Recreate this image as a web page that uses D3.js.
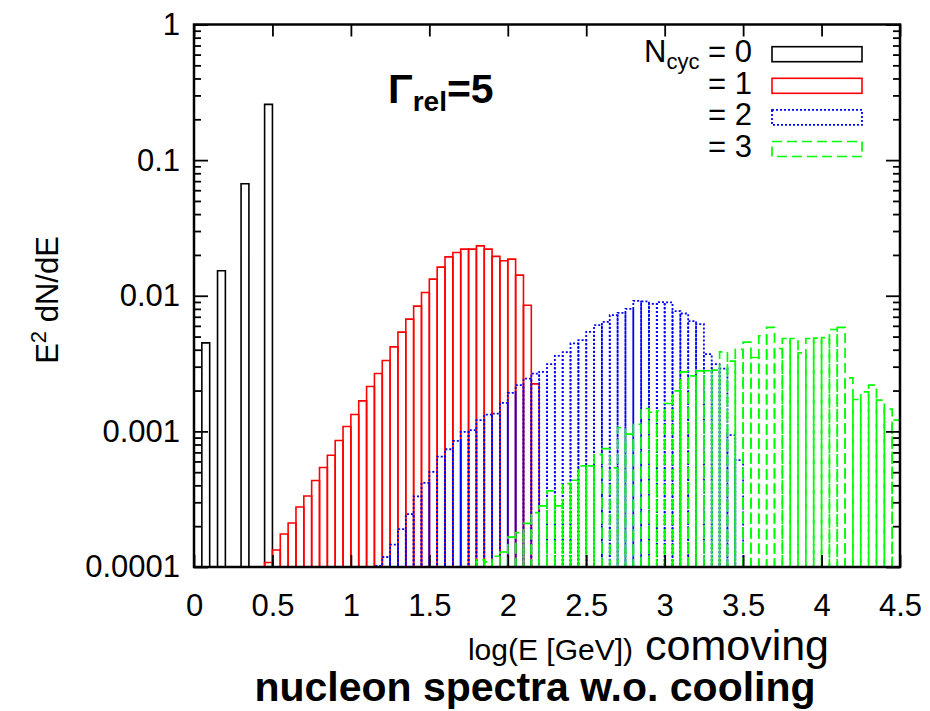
<!DOCTYPE html>
<html>
<head>
<meta charset="utf-8">
<script src="https://cdn.jsdelivr.net/npm/d3@7"></script>
<style>
  html, body { margin: 0; padding: 0; background: #fff; }
  svg { display: block; font-family: "Liberation Sans", Arial, Helvetica, sans-serif; }
</style>
</head>
<body>
<svg id="chart" width="930" height="711"></svg>
<script>
// Histogram bin width in log10(E / GeV)
const binWidth = 0.05;

// N_cyc = 0
const cyc0LogE = [0.05, 0.15, 0.30, 0.45];
const cyc0Vals = [4.49e-3, 1.527e-2, 6.69e-2, 0.2578];

// N_cyc = 1
const cyc1LogE = [0.45, 0.50, 0.55, 0.60, 0.65, 0.70, 0.75, 0.80, 0.85, 0.90,
                  0.95, 1.00, 1.05, 1.10, 1.15, 1.20, 1.25, 1.30, 1.35, 1.40,
                  1.45, 1.50, 1.55, 1.60, 1.65, 1.70, 1.75, 1.80, 1.85, 1.90,
                  1.95, 2.00, 2.05, 2.10, 2.15];
const cyc1Vals = [1.08e-4, 1.335e-4, 1.752e-4, 2.112e-4, 2.771e-4, 3.341e-4, 4.34e-4, 5.41e-4, 6.67e-4, 8.56e-4,
                  1.086e-3, 1.331e-3, 1.677e-3, 2.142e-3, 2.672e-3, 3.332e-3, 4.198e-3, 5.39e-3, 6.72e-3, 8.38e-3,
                  1.057e-2, 1.326e-2, 1.626e-2, 1.936e-2, 2.086e-2, 2.207e-2, 2.207e-2, 2.334e-2, 2.207e-2, 1.95e-2,
                  1.81e-2, 1.862e-2, 1.419e-2, 8.52e-3, 2.239e-3];

// N_cyc = 2
const cyc2LogE = [1.15, 1.20, 1.25, 1.30, 1.35, 1.40, 1.45, 1.50, 1.55, 1.60,
                  1.65, 1.70, 1.75, 1.80, 1.85, 1.90, 1.95, 2.00, 2.05, 2.10,
                  2.15, 2.20, 2.25, 2.30, 2.35, 2.40, 2.45, 2.50, 2.55, 2.60,
                  2.65, 2.70, 2.75, 2.80, 2.85, 2.90, 2.95, 3.00, 3.05, 3.10,
                  3.15, 3.20, 3.25, 3.30, 3.35, 3.40, 3.45];
const cyc2Vals = [1.02e-4, 1.185e-4, 1.46e-4, 1.90e-4, 2.45e-4, 3.32e-4, 4.17e-4, 5.02e-4, 6.52e-4, 7.38e-4,
                  8.5e-4, 9.9e-4, 1.02e-3, 1.21e-3, 1.33e-3, 1.35e-3, 1.62e-3, 1.92e-3, 2.19e-3, 2.45e-3,
                  2.67e-3, 2.75e-3, 3.13e-3, 3.6e-3, 3.84e-3, 4.45e-3, 4.70e-3, 5.42e-3, 6.07e-3, 6.42e-3,
                  7.19e-3, 7.48e-3, 8.0e-3, 9.17e-3, 9.1e-3, 8.71e-3, 8.97e-3, 8.93e-3, 7.70e-3, 7.40e-3,
                  6.49e-3, 6.17e-3, 3.71e-3, 3.13e-3, 2.9e-3, 9.37e-4, 6.13e-4];

// N_cyc = 3
const cyc3LogE = [1.80, 1.85, 1.90, 1.95, 2.00, 2.05, 2.10, 2.15, 2.20, 2.25,
                  2.30, 2.35, 2.40, 2.45, 2.50, 2.55, 2.60, 2.65, 2.70, 2.75,
                  2.80, 2.85, 2.90, 2.95, 3.00, 3.05, 3.10, 3.15, 3.20, 3.25,
                  3.30, 3.35, 3.40, 3.45, 3.50, 3.55, 3.60, 3.65, 3.70, 3.75,
                  3.80, 3.85, 3.90, 3.95, 4.00, 4.05, 4.10, 4.15, 4.20, 4.25,
                  4.30, 4.35, 4.40, 4.45];
const cyc3Vals = [1.13e-4, 1.09e-4, 1.20e-4, 1.29e-4, 1.66e-4, 1.79e-4, 2.10e-4, 2.52e-4, 2.82e-4, 3.64e-4,
                  2.82e-4, 4.12e-4, 4.36e-4, 5.56e-4, 5.56e-4, 6.75e-4, 7.47e-4, 5.38e-4, 1.068e-3, 9.53e-4,
                  1.129e-3, 1.474e-3, 1.384e-3, 1.415e-3, 1.605e-3, 1.988e-3, 2.745e-3, 2.565e-3, 2.79e-3, 2.80e-3,
                  2.825e-3, 3.856e-3, 3.293e-3, 4.017e-3, 4.55e-3, 3.506e-3, 5.06e-3, 5.84e-3, 4.085e-3, 4.84e-3,
                  4.84e-3, 3.79e-3, 4.84e-3, 4.87e-3, 4.92e-3, 5.64e-3, 5.84e-3, 2.48e-3, 1.718e-3, 1.954e-3,
                  2.19e-3, 1.697e-3, 1.457e-3, 1.209e-3];

// Axis ticks and labels
const xTicks = [0, 0.5, 1, 1.5, 2, 2.5, 3, 3.5, 4, 4.5];
const xTickLabels = ["0", "0.5", "1", "1.5", "2", "2.5", "3", "3.5", "4", "4.5"];
const yTicks = [1, 0.1, 0.01, 0.001, 0.0001];
const yTickLabels = ["1", "0.1", "0.01", "0.001", "0.0001"];
const legendLabels = ["0", "1", "2", "3"];

const series = [
  { logE: cyc0LogE, vals: cyc0Vals, color: "#000000", dash: null, width: 1.6 },
  { logE: cyc1LogE, vals: cyc1Vals, color: "#ff0000", dash: null, width: 1.6 },
  { logE: cyc2LogE, vals: cyc2Vals, color: "#0000ff", dash: "2,2", width: 1.8 },
  { logE: cyc3LogE, vals: cyc3Vals, color: "#00ff00", dash: "10,5", width: 1.7 }
];

const svg = d3.select("#chart");
const plot = { left: 194, right: 900, top: 24.5, bottom: 567 };

const x = d3.scaleLinear().domain([0, 4.5]).range([plot.left, plot.right]);
const y = d3.scaleLog().domain([1e-4, 1]).range([plot.bottom, plot.top]);

svg.append("defs").append("clipPath").attr("id", "plotClip")
  .append("rect")
  .attr("x", plot.left).attr("y", plot.top)
  .attr("width", plot.right - plot.left).attr("height", plot.bottom - plot.top);

// Histogram boxes, outlined only
const boxes = svg.append("g").attr("clip-path", "url(#plotClip)");
series.forEach(s => {
  const g = boxes.append("g")
    .attr("fill", "none")
    .attr("stroke", s.color)
    .attr("stroke-width", s.width);
  if (s.dash) g.attr("stroke-dasharray", s.dash);
  g.selectAll("path")
    .data(s.logE.map((e, i) => ({ e, v: s.vals[i] })))
    .join("path")
    .attr("d", d => {
      const x0 = x(d.e), x1 = x(d.e + binWidth);
      const yb = plot.bottom + 2, yt = y(d.v);
      return `M${x0},${yb}V${yt}H${x1}V${yb}`;
    });
});

// Axes with inward ticks, mirrored on all four sides
const fontSize = 31;
const styleAxis = g => {
  g.select(".domain").remove();
  g.selectAll(".tick line").attr("stroke", "#000").attr("stroke-width", 1.8);
  g.selectAll("text").attr("fill", "#000").attr("font-size", fontSize)
    .attr("font-family", "Liberation Sans, Arial, sans-serif");
};

svg.append("g")
  .attr("transform", `translate(0,${plot.bottom})`)
  .call(d3.axisBottom(x).tickValues(xTicks).tickSize(-12).tickPadding(27)
    .tickFormat((d, i) => xTickLabels[i]))
  .call(styleAxis);

svg.append("g")
  .attr("transform", `translate(0,${plot.top})`)
  .call(d3.axisTop(x).tickValues(xTicks).tickSize(-12).tickFormat(""))
  .call(styleAxis);

const minorY = [];
for (let p = -4; p < 0; p++) for (let m = 2; m <= 9; m++) minorY.push(m * Math.pow(10, p));

svg.append("g")
  .attr("transform", `translate(${plot.left},0)`)
  .call(d3.axisLeft(y).tickValues(yTicks).tickSize(-14).tickPadding(14)
    .tickFormat((d, i) => yTickLabels[i]))
  .call(styleAxis);
svg.append("g")
  .attr("transform", `translate(${plot.left},0)`)
  .call(d3.axisLeft(y).tickValues(minorY).tickSize(-7).tickFormat(""))
  .call(styleAxis);
svg.append("g")
  .attr("transform", `translate(${plot.right},0)`)
  .call(d3.axisRight(y).tickValues(yTicks).tickSize(-14).tickFormat(""))
  .call(styleAxis);
svg.append("g")
  .attr("transform", `translate(${plot.right},0)`)
  .call(d3.axisRight(y).tickValues(minorY).tickSize(-7).tickFormat(""))
  .call(styleAxis);

// Frame
svg.append("rect")
  .attr("x", plot.left).attr("y", plot.top)
  .attr("width", plot.right - plot.left).attr("height", plot.bottom - plot.top)
  .attr("fill", "none").attr("stroke", "#000").attr("stroke-width", 2.5);

// Legend
const legend = svg.append("g").attr("font-size", fontSize);
const rowY = i => 62 + 31.6 * i;
series.forEach((s, i) => {
  const t = legend.append("text")
    .attr("x", 752).attr("y", rowY(i)).attr("text-anchor", "end");
  if (i === 0) {
    t.append("tspan").text("N");
    t.append("tspan").attr("font-size", 22).attr("dy", 7).text("cyc");
    t.append("tspan").attr("dy", -7).text(" = " + legendLabels[i]);
  } else {
    t.text("= " + legendLabels[i]);
  }
  const r = legend.append("rect")
    .attr("x", 772).attr("y", rowY(i) - 15.3)
    .attr("width", 90).attr("height", 15)
    .attr("fill", "none").attr("stroke", s.color).attr("stroke-width", s.width);
  if (s.dash) r.attr("stroke-dasharray", s.dash);
});

// Annotation: Lorentz factor
const gam = svg.append("text").attr("x", 388).attr("y", 103)
  .attr("font-weight", "bold").attr("font-size", 41);
gam.append("tspan").text("Γ");
gam.append("tspan").attr("font-size", 28).attr("dy", 8).text("rel");
gam.append("tspan").attr("dy", -8).text("=5");

// Y axis title
const yt = svg.append("text")
  .attr("transform", "translate(58,300) rotate(-90)")
  .attr("text-anchor", "middle").attr("font-size", 31);
yt.append("tspan").text("E");
yt.append("tspan").attr("font-size", 22).attr("dy", -12).text("2");
yt.append("tspan").attr("dy", 12).text(" dN/dE");

// X axis title
svg.append("text").attr("x", 633).attr("y", 660).attr("text-anchor", "end")
  .attr("font-size", 30).text("log(E [GeV])");
svg.append("text").attr("x", 645).attr("y", 660)
  .attr("font-size", 43).text("comoving");

svg.append("text").attr("x", 535).attr("y", 701)
  .attr("text-anchor", "middle").attr("font-weight", "bold").attr("font-size", 41)
  .text("nucleon spectra w.o. cooling");
</script>
</body>
</html>
